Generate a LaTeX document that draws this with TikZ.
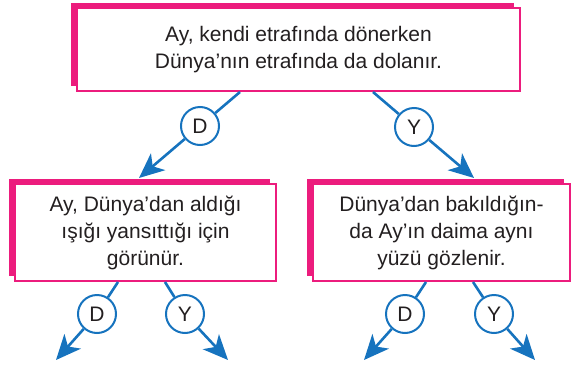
\documentclass[tikz,border=0pt]{standalone}
\usepackage{fontspec}
\setmainfont{Liberation Sans}
\usetikzlibrary{arrows.meta,shadows,positioning}
\definecolor{boxpink}{HTML}{EC1C7D}
\definecolor{arrowblue}{HTML}{1673BE}
\definecolor{txt}{HTML}{231F20}

\tikzset{
  claim/.style={draw=boxpink, line width=2pt, fill=white, align=center,
    text=txt, font=\fontsize{21}{27}\selectfont,
    general shadow={fill=boxpink, shadow xshift=-6.5pt, shadow yshift=5.5pt}},
  answer/.style={circle, draw=arrowblue, line width=2pt, fill=white,
    minimum size=38pt, inner sep=0pt, text=txt, font=\fontsize{21}{21}\selectfont},
  link/.style={draw=arrowblue, line width=2.6pt},
  tip/.style={link, -{Stealth[length=25pt,width=22pt,inset=7pt]}}
}

\begin{document}
\begin{tikzpicture}[x=1pt,y=-1pt]
    \useasboundingbox (0,0) rectangle (573,370);

    \node [claim, minimum width=443pt, minimum height=83pt] (top) at (298.5,49.5)
      {Ay, kendi etrafında dönerken\\Dünya’nın etrafında da dolanır.};
    \node [claim, minimum width=261pt, minimum height=97pt] (left) at (145.5,232.5)
      {Ay, Dünya’dan aldığı\\ışığı yansıttığı için\\görünür.};
    \node [claim, minimum width=257pt, minimum height=97pt] (right) at (441.5,232.5)
      {Dünya’dan bakıldığın-\\da Ay’ın daima aynı\\yüzü gözlenir.};

    % yes / no answers
    \node [answer] (topD) at (200,126) {D};
    \node [answer] (topY) at (414,127) {Y};
    \node [answer] (leftD) at (97,314) {D};
    \node [answer] (leftY) at (185,314) {Y};
    \node [answer] (rightD) at (405,314) {D};
    \node [answer] (rightY) at (494,314) {Y};

    \coordinate (topDin) at (240,92);   \coordinate (topDout) at (139,178);
    \coordinate (topYin) at (373,92);   \coordinate (topYout) at (474,178);
    \coordinate (leftDin) at (118,282); \coordinate (leftDout) at (56,360);
    \coordinate (leftYin) at (165,282); \coordinate (leftYout) at (228,360);
    \coordinate (rightDin) at (426,282); \coordinate (rightDout) at (364,360);
    \coordinate (rightYin) at (473,282); \coordinate (rightYout) at (535,360);

    \foreach \a in {topD,topY,leftD,leftY,rightD,rightY} {
      \draw [link] (\a in) -- (\a);
      \draw [tip] (\a) -- (\a out);
    }
\end{tikzpicture}
\end{document}
